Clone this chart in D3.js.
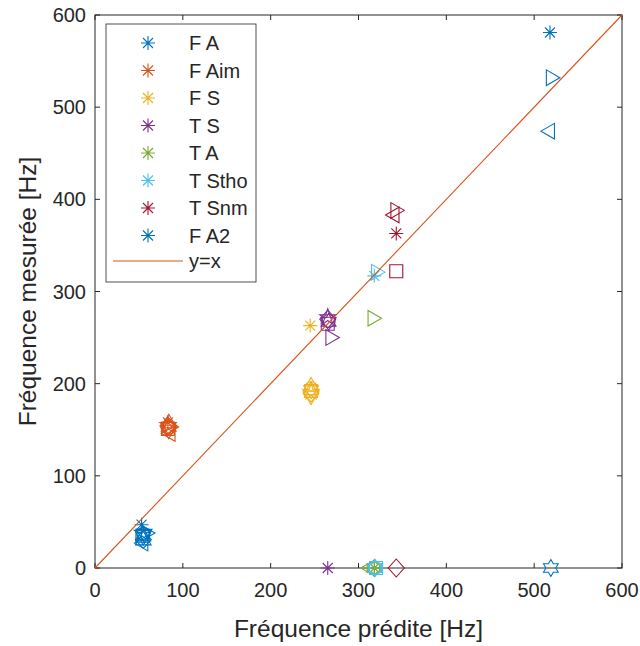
<!DOCTYPE html>
<html><head><meta charset="utf-8">
<script src="https://cdn.jsdelivr.net/npm/d3@7"></script>
<style>body{margin:0;background:#fff}svg{display:block}text{font-family:"Liberation Sans",Arial,sans-serif;fill:#262626}</style>
</head><body><svg id="c" width="640" height="646"></svg>
<script>
// ---- data ----
const seriesNames = ["F A","F Aim","F S","T S","T A","T Stho","T Snm","F A2"];
const seriesColors = ["#0072BD","#D95319","#EDB120","#7E2F8E","#77AC30","#4DBEEE","#A2142F","#0072BD"];
// [predicted, measured, marker]
const F_A   = [[53,47,"*"],[55,37,"o"],[54,35,"s"],[55,31,"d"],[55,30,"^"],[56,37,"v"],[58,38,">"],[55,27,"<"],[54,38,"p"],[55,34,"h"]];
const F_Aim = [[83,158,"*"],[84,152,"o"],[83,151,"s"],[83,154,"d"],[84,157,"^"],[84,150,"v"],[85,153,">"],[86,146,"<"],[83,155,"p"],[84,153,"h"]];
const F_S   = [[245,263,"*"],[246,195,"o"],[246,192,"s"],[246,190,"d"],[246,197,"^"],[246,187,"v"],[246,191,"p"],[246,193,"h"]];
const T_S   = [[265,0,"*"],[266,268,"o"],[265,265,"s"],[265,270,"d"],[268,250,">"],[265,272,"p"],[266,267,"h"]];
const T_A   = [[318,0,"*"],[317,0,"o"],[313,0,"<"],[318,0,"h"],[316,271,">"]];
const T_Stho= [[318,317,"*"],[320,321,">"],[319,0,"o"],[319,0,"h"],[320,0,"s"]];
const T_Snm = [[343,363,"*"],[342,388,">"],[341,383,"<"],[343,322,"s"],[343,0,"d"]];
const F_A2  = [[518,581,"*"],[519,532,">"],[518,474,"<"],[519,0,"h"]];
const seriesData = [F_A,F_Aim,F_S,T_S,T_A,T_Stho,T_Snm,F_A2];
const axisTicks = [0,100,200,300,400,500,600];
const xLabel = "Fréquence prédite [Hz]";
const yLabel = "Fréquence mesurée [Hz]";
const lineLabel = "y=x";

// ---- layout ----
const L=95,R=622,T=15,B=568;
const svg=d3.select("#c");
const x=d3.scaleLinear().domain([0,600]).range([L,R]);
const y=d3.scaleLinear().domain([0,600]).range([B,T]);
const axCol="#262626";

function markerPath(m){
  const p=d3.path();
  if(m==="*"){const r=7,d=5;p.moveTo(-r,0);p.lineTo(r,0);p.moveTo(0,-r);p.lineTo(0,r);p.moveTo(-d,-d);p.lineTo(d,d);p.moveTo(-d,d);p.lineTo(d,-d);return p.toString();}
  if(m==="o"){p.arc(0,0,6.5,0,2*Math.PI);p.closePath();return p.toString();}
  if(m==="s"){const h=6.5;p.rect(-h,-h,2*h,2*h);return p.toString();}
  if(m==="d"){p.moveTo(0,-9);p.lineTo(8,0);p.lineTo(0,9);p.lineTo(-8,0);p.closePath();return p.toString();}
  const tri={"^":-90,"v":90,">":0,"<":180};
  if(m in tri){const r=9,a0=tri[m]*Math.PI/180;for(let i=0;i<3;i++){const a=a0+i*2*Math.PI/3;const px=r*Math.cos(a),py=r*Math.sin(a);i?p.lineTo(px,py):p.moveTo(px,py);}p.closePath();return p.toString();}
  if(m==="p"||m==="h"){const n=m==="p"?5:6,R=8.5,ri=m==="p"?R*0.382:R/Math.sqrt(3);for(let i=0;i<2*n;i++){const a=-Math.PI/2+i*Math.PI/n;const rr=i%2?ri:R;const px=rr*Math.cos(a),py=rr*Math.sin(a);i?p.lineTo(px,py):p.moveTo(px,py);}p.closePath();return p.toString();}
  return "";
}

// axes box
svg.append("rect").attr("x",L).attr("y",T).attr("width",R-L).attr("height",B-T).attr("fill","#fff").attr("stroke",axCol).attr("stroke-width",1);

// ticks (inside, all four sides)
const tk=5;
const g=svg.append("g").attr("stroke",axCol).attr("stroke-width",1);
axisTicks.forEach(v=>{
  g.append("line").attr("x1",x(v)).attr("x2",x(v)).attr("y1",B).attr("y2",B-tk);
  g.append("line").attr("x1",x(v)).attr("x2",x(v)).attr("y1",T).attr("y2",T+tk);
  g.append("line").attr("y1",y(v)).attr("y2",y(v)).attr("x1",L).attr("x2",L+tk);
  g.append("line").attr("y1",y(v)).attr("y2",y(v)).attr("x1",R).attr("x2",R-tk);
});
axisTicks.forEach(v=>{
  svg.append("text").attr("x",x(v)).attr("y",B+29).attr("text-anchor","middle").attr("font-size",20).text(v);
  svg.append("text").attr("x",L-9).attr("y",y(v)+7).attr("text-anchor","end").attr("font-size",20).text(v);
});
svg.append("text").attr("x",(L+R)/2).attr("y",B+69).attr("text-anchor","middle").attr("font-size",24.5).text(xLabel);
svg.append("text").attr("transform",`translate(36,${(T+B)/2}) rotate(-90)`).attr("text-anchor","middle").attr("font-size",24.5).text(yLabel);

const plot=svg.append("g");

// markers
seriesData.forEach((pts,i)=>{
  plot.selectAll(null).data(pts).enter().append("path")
    .attr("transform",d=>`translate(${x(d[0])},${y(d[1])})`)
    .attr("d",d=>markerPath(d[2]))
    .attr("fill","none").attr("stroke",seriesColors[i]).attr("stroke-width",1.1);
});
// y=x line
plot.append("line").attr("x1",x(0)).attr("y1",y(0)).attr("x2",x(600)).attr("y2",y(600)).attr("stroke","#D95319").attr("stroke-width",1.1);

// legend
const lg=svg.append("g");
lg.append("rect").attr("x",106).attr("y",24).attr("width",150).attr("height",258).attr("fill","#fff").attr("stroke",axCol).attr("stroke-width",0.8);
seriesNames.forEach((n,i)=>{
  const yy=43+i*27.5;
  lg.append("path").attr("transform",`translate(148,${yy})`).attr("d",markerPath("*")).attr("fill","none").attr("stroke",seriesColors[i]).attr("stroke-width",1.1);
  lg.append("text").attr("x",189).attr("y",yy+7).attr("font-size",20).text(n);
});
const ly=43+8*27.5-2;
lg.append("line").attr("x1",113).attr("x2",183).attr("y1",ly).attr("y2",ly).attr("stroke","#D95319").attr("stroke-width",1.1);
lg.append("text").attr("x",189).attr("y",ly+7).attr("font-size",20).text(lineLabel);
</script></body></html>
